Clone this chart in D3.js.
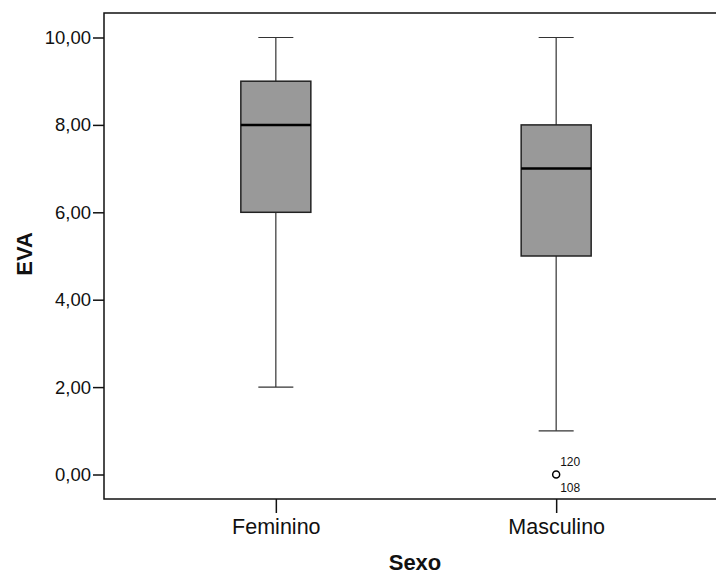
<!DOCTYPE html>
<html><head><meta charset="utf-8">
<script src="https://cdn.jsdelivr.net/npm/d3@7"></script>
<style>body{margin:0;background:#fff;} svg{display:block;}</style>
</head><body>
<svg id="c" width="716" height="574"></svg>
<script>
const categories = ["Feminino", "Masculino"];
const mins = [2, 1];
const q1s = [6, 5];
const medians = [8, 7];
const q3s = [9, 8];
const maxs = [10, 10];
const outlierValues = [null, 0];
const outlierLabels = [[], ["120", "108"]];
const yTicks = [0, 2, 4, 6, 8, 10];

(function () {
const svg = d3.select("#c");
const font = "'Liberation Sans', Arial, sans-serif";
const pL = 104, pT = 13, pB = 499, pR = 728;
const y = d3.scaleLinear().domain([0, 10]).range([474.5, 37.5]);
const x = d3.scalePoint().domain(categories).range([pL, pR]).padding(0.613);
const boxW = 70, capW = 35;

svg.append("rect").attr("x", pL).attr("y", pT).attr("width", pR - pL).attr("height", pB - pT)
  .attr("fill", "none").attr("stroke", "#111").attr("stroke-width", 1.5);

const yAxis = d3.axisLeft(y).tickValues(yTicks).tickSize(11).tickPadding(2)
  .tickFormat(d => d3.format(".2f")(d).replace(".", ","));
const gy = svg.append("g").attr("transform", `translate(${pL},0)`).call(yAxis);
gy.select(".domain").remove();
gy.selectAll(".tick line").attr("stroke", "#111").attr("stroke-width", 1.5);
gy.selectAll(".tick text").attr("font-family", font).attr("font-size", 18.5).attr("fill", "#111");

const xAxis = d3.axisBottom(x).tickSize(14).tickPadding(6);
const gx = svg.append("g").attr("transform", `translate(0,${pB})`).call(xAxis);
gx.select(".domain").remove();
gx.selectAll(".tick line").attr("stroke", "#111").attr("stroke-width", 1.5);
gx.selectAll(".tick text").attr("font-family", font).attr("font-size", 21.5).attr("fill", "#111");

categories.forEach((c, i) => {
  const cx = x(c);
  const g = svg.append("g");
  g.append("line").attr("x1", cx).attr("x2", cx).attr("y1", y(maxs[i])).attr("y2", y(q3s[i]))
    .attr("stroke", "#333").attr("stroke-width", 1.2);
  g.append("line").attr("x1", cx).attr("x2", cx).attr("y1", y(q1s[i])).attr("y2", y(mins[i]))
    .attr("stroke", "#333").attr("stroke-width", 1.2);
  g.append("line").attr("x1", cx - capW / 2).attr("x2", cx + capW / 2).attr("y1", y(maxs[i])).attr("y2", y(maxs[i]))
    .attr("stroke", "#333").attr("stroke-width", 1.2);
  g.append("line").attr("x1", cx - capW / 2).attr("x2", cx + capW / 2).attr("y1", y(mins[i])).attr("y2", y(mins[i]))
    .attr("stroke", "#333").attr("stroke-width", 1.2);
  g.append("rect").attr("x", cx - boxW / 2).attr("y", y(q3s[i])).attr("width", boxW)
    .attr("height", y(q1s[i]) - y(q3s[i])).attr("fill", "#999999").attr("stroke", "#222").attr("stroke-width", 1.5);
  g.append("line").attr("x1", cx - boxW / 2).attr("x2", cx + boxW / 2).attr("y1", y(medians[i])).attr("y2", y(medians[i]))
    .attr("stroke", "#000").attr("stroke-width", 2.5);
  if (outlierValues[i] !== null) {
    const oy = y(outlierValues[i]);
    g.append("circle").attr("cx", cx).attr("cy", oy).attr("r", 3.5).attr("fill", "#fff")
      .attr("stroke", "#000").attr("stroke-width", 1.5);
    const labs = outlierLabels[i];
    if (labs[0]) g.append("text").attr("x", cx + 4).attr("y", oy - 9).text(labs[0])
      .attr("font-family", font).attr("font-size", 12).attr("fill", "#111");
    if (labs[1]) g.append("text").attr("x", cx + 4).attr("y", oy + 17).text(labs[1])
      .attr("font-family", font).attr("font-size", 12).attr("fill", "#111");
  }
});

svg.append("text").attr("x", 415).attr("y", 570).attr("text-anchor", "middle")
  .attr("font-family", font).attr("font-size", 22).attr("font-weight", "bold").attr("fill", "#111").text("Sexo");
svg.append("text").attr("transform", "translate(31.5,254) rotate(-90)").attr("text-anchor", "middle")
  .attr("font-family", font).attr("font-size", 22).attr("font-weight", "bold").attr("fill", "#111").text("EVA");
})();
</script>
</body></html>
